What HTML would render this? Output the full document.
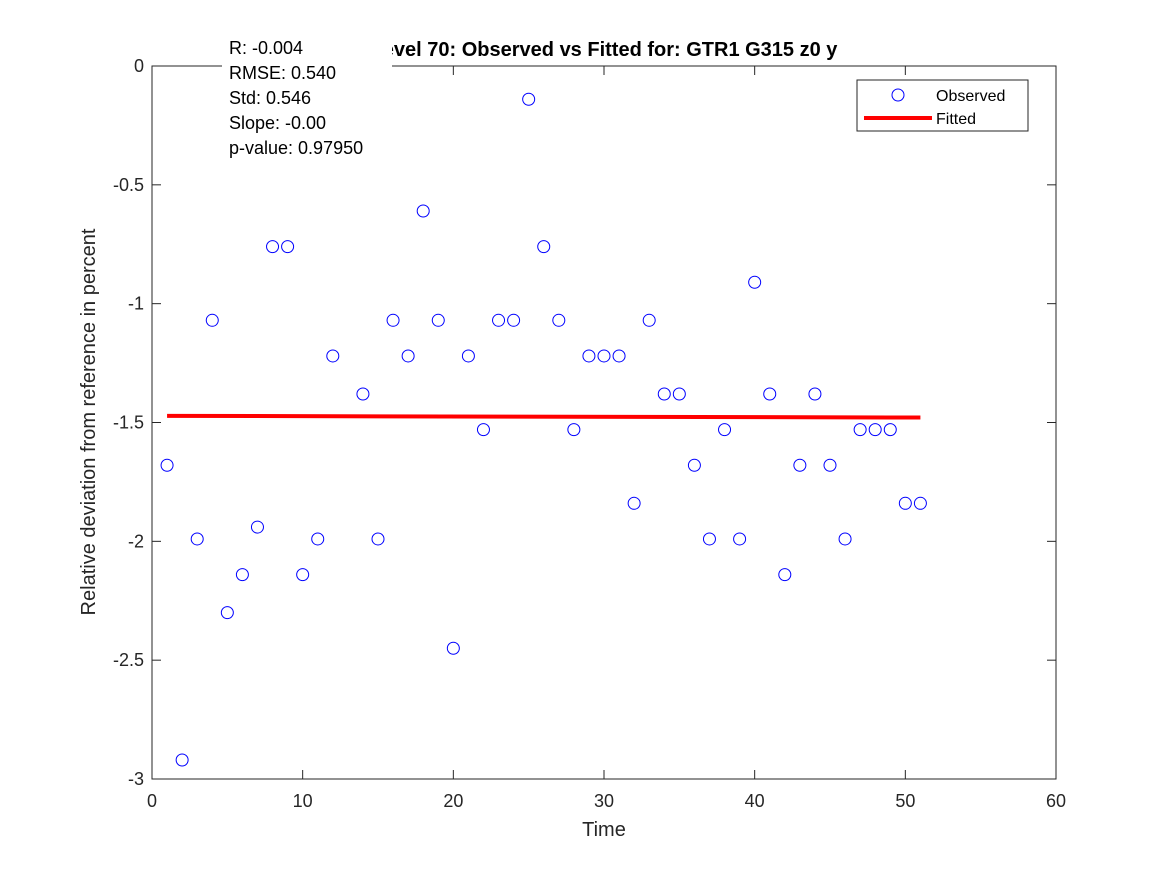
<!DOCTYPE html>
<html><head><meta charset="utf-8"><style>
body{margin:0;background:#fff;}
svg text{font-family:"Liberation Sans",Arial,sans-serif;}
</style></head><body>
<svg width="1167" height="875" viewBox="0 0 1167 875">
<rect width="1167" height="875" fill="#fff"/>
<g id="plot"></g>
</svg>
<script>
const xs=[1,2,3,4,5,6,7,8,9,10,11,12,14,15,16,17,18,19,20,21,22,23,24,25,26,27,28,29,30,31,32,33,34,35,36,37,38,39,40,41,42,43,44,45,46,47,48,49,50,51];
const ys=[-1.68,-2.92,-1.99,-1.07,-2.30,-2.14,-1.94,-0.76,-0.76,-2.14,-1.99,-1.22,-1.38,-1.99,-1.07,-1.22,-0.61,-1.07,-2.45,-1.22,-1.53,-1.07,-1.07,-0.14,-0.76,-1.07,-1.53,-1.22,-1.22,-1.22,-1.84,-1.07,-1.38,-1.38,-1.68,-1.99,-1.53,-1.99,-0.91,-1.38,-2.14,-1.68,-1.38,-1.68,-1.99,-1.53,-1.53,-1.53,-1.84,-1.84];
const fitX=[1,51];
const fitY=[-1.472,-1.479];
const xTicks=[0,10,20,30,40,50,60];
const yTicks=[0,-0.5,-1,-1.5,-2,-2.5,-3];
const yTickLabels=["0","-0.5","-1","-1.5","-2","-2.5","-3"];
const L=152,R=1056,T=66,B=779;
const sx=v=>L+(v-0)/60*(R-L);
const sy=v=>T+(0-v)/3*(B-T);
const NS="http://www.w3.org/2000/svg";
const g=document.getElementById('plot');
function mk(tag,attrs,txt){const e=document.createElementNS(NS,tag);for(const k in attrs)e.setAttribute(k,attrs[k]);if(txt!==undefined)e.textContent=txt;g.appendChild(e);return e;}
let e;
e=mk('rect',{x:L,y:T,width:R-L,height:B-T,fill:'#fff',stroke:'#262626','stroke-width':1});


xTicks.forEach(t=>{
 e=mk('line',{x1:sx(t),x2:sx(t),y1:B,y2:B-9,stroke:'#262626'});
 
 
 e=mk('line',{x1:sx(t),x2:sx(t),y1:T,y2:T+9,stroke:'#262626'});
 
 
 e=mk('text',{x:sx(t),y:B+28,'text-anchor':'middle','font-size':18,fill:'#262626'},String(t));
 
 
});
yTicks.forEach((t,i)=>{
 e=mk('line',{x1:L,x2:L+9,y1:sy(t),y2:sy(t),stroke:'#262626'});
 
 
 e=mk('line',{x1:R,x2:R-9,y1:sy(t),y2:sy(t),stroke:'#262626'});
 
 
 e=mk('text',{x:L-8,y:sy(t)+6,'text-anchor':'end','font-size':18,fill:'#262626'},yTickLabels[i]);
 
 
});
e=mk('text',{x:604,y:836,'text-anchor':'middle','font-size':20,fill:'#262626'},'Time');


e=mk('text',{x:95,y:422,'text-anchor':'middle','font-size':20,fill:'#262626',transform:'rotate(-90 95 422)'},'Relative deviation from reference in percent');


xs.forEach((x,i)=>{
 e=mk('circle',{cx:sx(x),cy:sy(ys[i]),r:6,fill:'none',stroke:'#0000ff','stroke-width':1});
 
 
});
e=mk('line',{x1:sx(fitX[0]),y1:sy(fitY[0]),x2:sx(fitX[1]),y2:sy(fitY[1]),stroke:'#ff0000','stroke-width':4});


e=mk('text',{x:604,y:56,'text-anchor':'middle','font-size':20,'font-weight':'bold',fill:'#000'},'Level 70: Observed vs Fitted for: GTR1 G315 z0 y');


e=mk('rect',{x:222,y:32,width:170,height:132,fill:'#fff'});


const stats=['R: -0.004','RMSE: 0.540','Std: 0.546','Slope: -0.00','p-value: 0.97950'];
stats.forEach((s,i)=>{
 e=mk('text',{x:229,y:54+i*25,'font-size':18,fill:'#000'},s);
 
 
});
e=mk('rect',{x:857,y:80,width:171,height:51,fill:'#fff',stroke:'#262626'});


e=mk('circle',{cx:898,cy:95,r:6,fill:'none',stroke:'#0000ff'});


e=mk('text',{x:936,y:101,'font-size':16,fill:'#000'},'Observed');


e=mk('line',{x1:864,x2:932,y1:118,y2:118,stroke:'#ff0000','stroke-width':4});


e=mk('text',{x:936,y:124,'font-size':16,fill:'#000'},'Fitted');


</script>
</body></html>
